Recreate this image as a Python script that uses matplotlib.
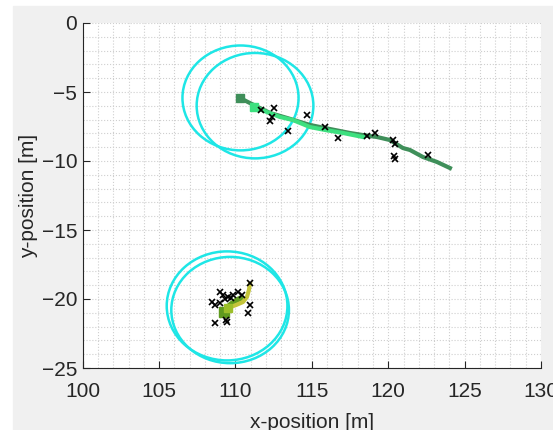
import numpy as np
import matplotlib
matplotlib.use("Agg")
import matplotlib.pyplot as plt
from matplotlib.patches import Circle, Rectangle
from matplotlib.ticker import MultipleLocator

plt.rcParams["font.family"] = ["Liberation Sans", "DejaVu Sans"]

# upper target: estimated tracks
track1_dark_x = [110.29, 110.82, 111.60, 112.26, 113.37, 114.88, 115.86, 117.49,
                 118.34, 119.26, 120.11, 120.96, 121.42, 122.27, 123.19, 124.04]
track1_dark_y = [-5.43, -5.73, -6.16, -6.52, -6.88, -7.39, -7.61, -7.97,
                 -8.12, -8.26, -8.48, -9.06, -9.20, -9.71, -10.07, -10.51]
track1_light_x = [111.21, 112.06, 112.91, 113.76, 114.88, 115.86, 117.04, 118.34]
track1_light_y = [-6.09, -6.45, -6.81, -7.03, -7.54, -7.75, -7.97, -8.26]

# lower target: estimated tracks
track2_olive_x = [109.25, 109.64, 109.90, 110.10, 110.36]
track2_olive_y = [-20.94, -20.43, -20.22, -20.07, -19.93]
track2_yellow_x = [109.52, 110.05, 110.49, 110.75, 110.88, 110.95]
track2_yellow_y = [-20.65, -20.43, -20.22, -19.86, -19.35, -18.91]

# measurements
meas_x = [111.67, 112.52, 112.39, 112.26, 113.44, 114.68, 115.86, 116.71, 118.61,
          119.13, 120.31, 120.44, 120.37, 120.44, 122.60,
          108.46, 108.66, 108.99, 109.18, 109.51, 109.84, 110.16, 110.43, 110.95,
          110.95, 110.82, 108.66, 109.38, 109.45, 108.99, 109.31, 109.71]
meas_y = [-6.30, -6.16, -6.81, -7.10, -7.83, -6.67, -7.54, -8.33, -8.19,
          -7.97, -8.48, -8.77, -9.64, -9.86, -9.57,
          -20.22, -20.43, -19.49, -19.71, -19.86, -19.71, -19.49, -19.71, -18.84,
          -20.43, -21.01, -21.74, -21.52, -21.67, -20.29, -20.00, -19.93]

# gates (center x, center y, radius)
gate_x = [110.33, 111.28, 109.45, 109.65]
gate_y = [-5.43, -5.99, -20.50, -20.80]
gate_r = [3.80, 3.82, 3.95, 3.85]

fig = plt.figure(figsize=(5.53, 4.30), dpi=100, facecolor="white")
fig.patches.append(Rectangle((13 / 553, 0), 1, (430 - 6) / 430,
                             transform=fig.transFigure, color="#f0f0f0", zorder=-10))
ax = fig.add_axes([82.7 / 553, 62 / 430, (541 - 82.7) / 553, 345 / 430])
ax.set_facecolor("white")

for cx, cy, r in zip(gate_x, gate_y, gate_r):
    ax.add_patch(Circle((cx, cy), r, fill=False, ec="#1ee6e6", lw=1.8, zorder=3))

ax.plot(track1_dark_x, track1_dark_y, color="#3f8f5a", lw=3, zorder=4)
ax.plot(track1_light_x, track1_light_y, color="#3de07f", lw=3, zorder=5)
ax.plot(track1_dark_x[0], track1_dark_y[0], "s", color="#3f8f5a", ms=6, zorder=6)
ax.plot(track1_light_x[0], track1_light_y[0], "s", color="#3de07f", ms=6, zorder=6)

ax.plot(track2_olive_x, track2_olive_y, color="#5f9a1e", lw=4, zorder=4)
ax.plot(track2_yellow_x, track2_yellow_y, color="#c4c43a", lw=3, zorder=5)
ax.plot(track2_olive_x[0], track2_olive_y[0], "s", color="#5f9a1e", ms=7, zorder=6)
ax.plot(track2_yellow_x[0], track2_yellow_y[0], "s", color="#9cbf2a", ms=6, zorder=6)

ax.plot(meas_x, meas_y, "x", color="black", ms=5, mew=1.2, zorder=7)

ax.set_xlim(100, 130)
ax.set_ylim(-25, 0)
ax.xaxis.set_major_locator(MultipleLocator(5))
ax.yaxis.set_major_locator(MultipleLocator(5))
ax.xaxis.set_minor_locator(MultipleLocator(1))
ax.yaxis.set_minor_locator(MultipleLocator(1))
ax.grid(which="both", ls=":", color="#cfcfcf", lw=0.8)
ax.set_axisbelow(True)
ax.tick_params(which="major", direction="in", length=5, width=0.8, colors="#262626",
               labelsize=15, labelcolor="#262626", top=False, right=False)
ax.tick_params(axis="x", pad=10)
ax.tick_params(axis="y", pad=4)
ax.tick_params(which="minor", length=0)
for s in ["top", "right"]:
    ax.spines[s].set_visible(False)
for s in ["left", "bottom"]:
    ax.spines[s].set_color("#262626")
    ax.spines[s].set_linewidth(0.8)

ax.set_xlabel("x-position [m]", fontsize=15, color="#262626", labelpad=9)
ax.set_ylabel("y-position [m]", fontsize=15, color="#262626", labelpad=2.5)

fig.savefig("out.png", dpi=100, facecolor=fig.get_facecolor())
